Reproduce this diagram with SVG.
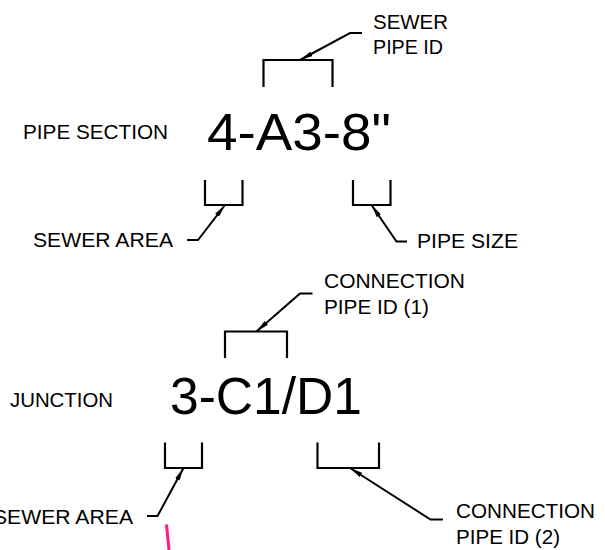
<svg xmlns="http://www.w3.org/2000/svg" width="605" height="550" viewBox="0 0 605 550">
  <style>
    .lbl { font-family: "Liberation Sans", Arial, sans-serif; font-size: 19.5px; fill: #000; }
    .code { font-family: "Liberation Sans", Arial, sans-serif; font-size: 51px; fill: #000; }
    .brk { fill: none; stroke: #000; stroke-width: 2.2; stroke-linejoin: miter; }
    .ldr { fill: none; stroke: #000; stroke-width: 2; marker-end: url(#arrow); }
  </style>
  <defs>
    <marker id="arrow" viewBox="0 0 13 5" refX="13" refY="2.5" markerWidth="13" markerHeight="5" markerUnits="userSpaceOnUse" orient="auto">
      <path d="M0,0 L13,2.5 L0,5 z" fill="#000"/>
    </marker>
  </defs>
  <rect width="605" height="550" fill="#fff"/>

  <!-- pipe section code and its parts -->
  <g id="pipe-section-label">
    <text class="lbl" x="23" y="139" textLength="145" lengthAdjust="spacingAndGlyphs">PIPE SECTION</text>
  </g>
  <g id="pipe-section-code">
    <text class="code" x="207" y="150" textLength="184" lengthAdjust="spacingAndGlyphs">4-A3-8"</text>
  </g>
  <g id="sewer-pipe-id">
    <path class="brk" d="M263.5,87 V60 H332.5 V87"/>
    <text class="lbl" x="373" y="29" textLength="75" lengthAdjust="spacingAndGlyphs">SEWER</text>
    <text class="lbl" x="373" y="54" textLength="70" lengthAdjust="spacingAndGlyphs">PIPE ID</text>
  </g>
  <g id="sewer-area-1">
    <path class="brk" d="M205,180 V205 H242.5 V180"/>
    <text class="lbl" x="33" y="247" textLength="140" lengthAdjust="spacingAndGlyphs">SEWER AREA</text>
  </g>
  <g id="pipe-size">
    <path class="brk" d="M353,180 V205 H390.5 V180"/>
    <text class="lbl" x="417" y="248" textLength="101" lengthAdjust="spacingAndGlyphs">PIPE SIZE</text>
  </g>

  <!-- junction code and its parts -->
  <g id="junction-label">
    <text class="lbl" x="10" y="407" textLength="103" lengthAdjust="spacingAndGlyphs">JUNCTION</text>
  </g>
  <g id="junction-code">
    <text class="code" x="170" y="414" textLength="192" lengthAdjust="spacingAndGlyphs">3-C1/D1</text>
  </g>
  <g id="connection-pipe-1">
    <path class="brk" d="M225,358 V331.5 H287 V358"/>
    <text class="lbl" x="324" y="287.5" textLength="141" lengthAdjust="spacingAndGlyphs">CONNECTION</text>
    <text class="lbl" x="324" y="313.5" textLength="105" lengthAdjust="spacingAndGlyphs">PIPE ID (1)</text>
  </g>
  <g id="sewer-area-2">
    <path class="brk" d="M165,442.5 V468 H202 V442.5"/>
    <text class="lbl" x="-7" y="523.5" textLength="140" lengthAdjust="spacingAndGlyphs">SEWER AREA</text>
  </g>
  <g id="connection-pipe-2">
    <path class="brk" d="M317.5,442.5 V468 H379 V442.5"/>
    <text class="lbl" x="456" y="517.5" textLength="139" lengthAdjust="spacingAndGlyphs">CONNECTION</text>
    <text class="lbl" x="456" y="543.5" textLength="104" lengthAdjust="spacingAndGlyphs">PIPE ID (2)</text>
  </g>

  <!-- leader lines -->
  <g id="connectors">
    <path class="ldr" d="M362,33 H350 L300,60"/>
    <path class="ldr" d="M187,240 H198 L225,205"/>
    <path class="ldr" d="M407,241.5 H396.5 L371.5,205"/>
    <path class="ldr" d="M312.5,293.5 H300 L256.5,331.5"/>
    <path class="ldr" d="M147,516 H157.5 L183.5,468"/>
    <path class="ldr" d="M443,519.5 H430.5 L350,468"/>
  </g>

  <!-- stray pink stroke at the bottom edge -->
  <path d="M166.5,524.5 L169,550" fill="none" stroke="#ff1a8c" stroke-width="3"/>
</svg>
